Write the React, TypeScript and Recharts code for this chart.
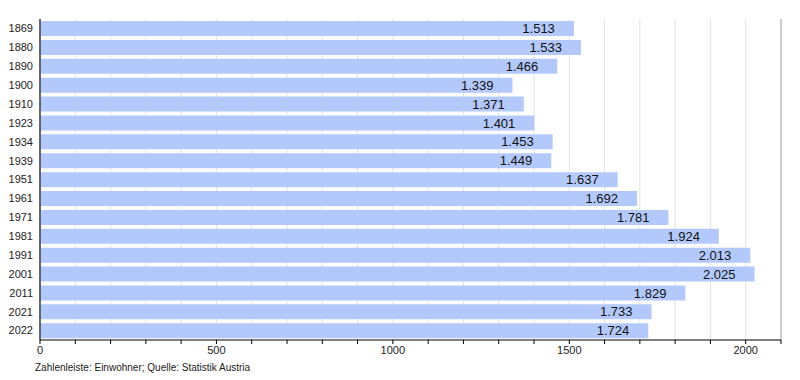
import React from 'react';
import { BarChart, Bar, XAxis, YAxis, CartesianGrid, LabelList } from 'recharts';

const years = ['1869','1880','1890','1900','1910','1923','1934','1939','1951','1961','1971','1981','1991','2001','2011','2021','2022'];
const population = [1513,1533,1466,1339,1371,1401,1453,1449,1637,1692,1781,1924,2013,2025,1829,1733,1724];
const minorTicks = [0,100,200,300,400,500,600,700,800,900,1000,1100,1200,1300,1400,1500,1600,1700,1800,1900,2000,2100];
const majorTicks = [0,500,1000,1500,2000];
const sourceText = 'Zahlenleiste: Einwohner; Quelle: Statistik Austria';

const data = years.map((y, i) => ({ year: y, value: population[i] }));

const fmt = (v: any) => {
  const n = Number(v);
  if (n >= 1000) {
    const s = String(n);
    return s.slice(0, s.length - 3) + '.' + s.slice(s.length - 3);
  }
  return String(n);
};

export default function App() {
  const font = '"Liberation Sans", Arial, sans-serif';
  return (
    <div style={{ position: 'absolute', left: 0, top: 0, width: 800, height: 380, fontFamily: font, background: '#fff' }}>
      <BarChart
        width={800}
        height={380}
        data={data}
        layout="vertical"
        margin={{ top: 19, right: 19, bottom: 18, left: 0 }}
        barCategoryGap="11%"
      >
        <CartesianGrid horizontal={false} stroke="#e2e2e2" xAxisId="minor" />
        <CartesianGrid horizontal={false} stroke="#a8a8a8" xAxisId="major" />
        <XAxis
          xAxisId="major"
          orientation="top"
          type="number"
          domain={[0, 2100]}
          ticks={majorTicks}
          height={0}
          hide
        />
        <XAxis
          xAxisId="minor"
          type="number"
          domain={[0, 2100]}
          ticks={minorTicks}
          interval={0}
          height={22}
          tickSize={4}
          axisLine={{ stroke: '#000' }}
          tickLine={{ stroke: '#000' }}
          tick={{ fontSize: 11, fill: '#222', fontFamily: font }}
          tickFormatter={(v: number) => (v % 500 === 0 && v <= 2000 ? String(v) : '')}
        />
        <YAxis
          type="category"
          dataKey="year"
          width={40}
          tickLine={false}
          axisLine={{ stroke: '#000' }}
          tickSize={4}
          tickMargin={3}
          tick={{ fontSize: 11, fill: '#222', fontFamily: font }}
        />
        <Bar dataKey="value" xAxisId="minor" fill="#b3c9fc" isAnimationActive={false}>
          <LabelList
            dataKey="value"
            position="insideRight"
            offset={19}
            formatter={fmt}
            style={{ fontSize: 13, fill: '#111', fontFamily: font }}
          />
        </Bar>
      </BarChart>
      <div style={{ position: 'absolute', left: 35, top: 362, fontSize: 10, color: '#222', fontFamily: font }}>
        {sourceText}
      </div>
    </div>
  );
}
